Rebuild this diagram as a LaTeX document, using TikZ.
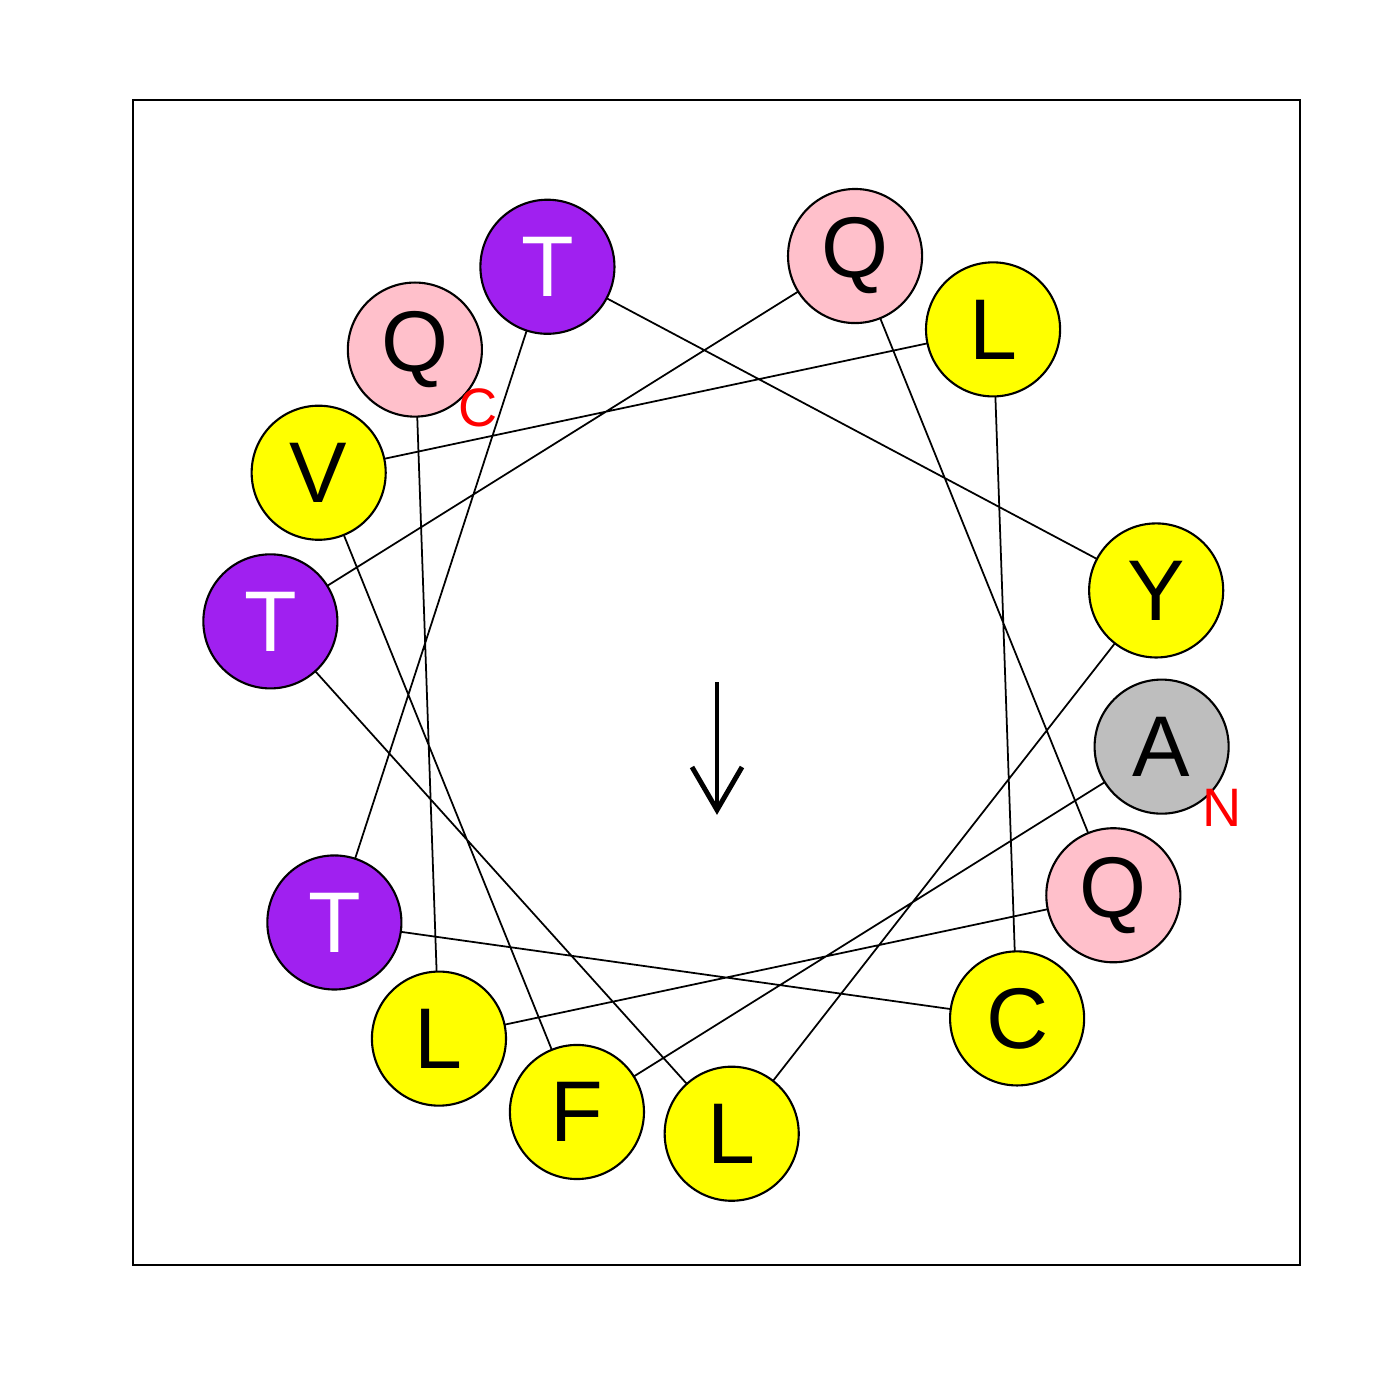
\documentclass[tikz,border=0pt]{standalone}
\usepackage{fontspec}
\setmainfont{Liberation Sans}
\definecolor{rpurple}{HTML}{A020F0}
\definecolor{rpink}{HTML}{FFC0CB}
\definecolor{ryellow}{HTML}{FFFF00}
\definecolor{rgray}{HTML}{BEBEBE}
\begin{document}
\begin{tikzpicture}[x=0.01cm,y=-0.01cm,
  res/.style={circle,draw=black,line width=0.6pt,inner sep=0pt,
    minimum size=1.34cm,font=\fontsize{24.5}{24.5}\selectfont},
  purp/.style={res,fill=rpurple,text=white},
  pink/.style={res,fill=rpink,text=black},
  yel/.style={res,fill=ryellow,text=black},
  gry/.style={res,fill=rgray,text=black},
  link/.style={line width=0.5pt},
  term/.style={text=red,font=\fontsize{15.4}{15.4}\selectfont,inner sep=0pt}]
\useasboundingbox (0,0) rectangle (1400,1400);
\draw[line width=0.8pt] (133,100) rectangle (1300,1265);
\coordinate (ctr) at (716,684);
\foreach \n/\a in {r1/-8, r2/-108, r3/152, r4/52, r5/-48, r6/-148, r7/112, r8/12, r9/-88, r10/172, r11/72, r12/-28, r13/-128, r14/132}{
  \coordinate (p\n) at ([shift={(-\a:450)}]ctr);
}
\draw[link] (pr1) -- (pr2) -- (pr3) -- (pr4) -- (pr5) -- (pr6) -- (pr7) -- (pr8) -- (pr9) -- (pr10) -- (pr11) -- (pr12) -- (pr13) -- (pr14);
\node[gry]  (r1)  at (pr1)  {A};
\node[yel]  (r2)  at (pr2)  {F};
\node[yel]  (r3)  at (pr3)  {V};
\node[yel]  (r4)  at (pr4)  {L};
\node[yel]  (r5)  at (pr5)  {C};
\node[purp] (r6)  at (pr6)  {T};
\node[purp] (r7)  at (pr7)  {T};
\node[yel]  (r8)  at (pr8)  {Y};
\node[yel]  (r9)  at (pr9)  {L};
\node[purp] (r10) at (pr10) {T};
\node[pink] (r11) at (pr11) {Q};
\node[pink] (r12) at (pr12) {Q};
\node[yel]  (r13) at (pr13) {L};
\node[pink] (r14) at (pr14) {Q};
\node[term] (nterm) at (1222,808) {N};
\node[term] (cterm) at (478,408) {C};
\coordinate (a0) at (717,682);
\coordinate (a1) at (717,810);
\coordinate (b1) at (692,767);
\coordinate (b2) at (742,767);
\draw[line width=1.4pt] (a0) -- (a1);
\draw[line width=1.4pt] (b1) -- (a1) -- (b2);
\end{tikzpicture}
\end{document}
